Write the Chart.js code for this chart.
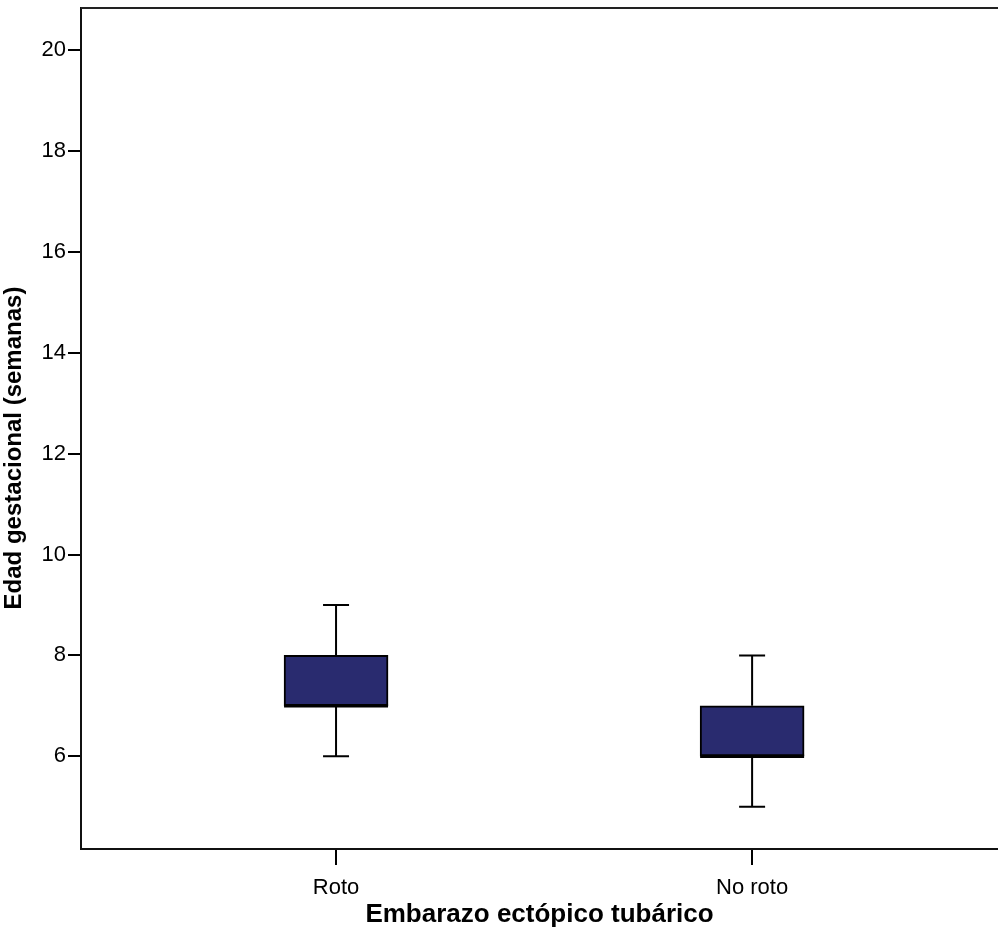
<!DOCTYPE html>
<html>
<head>
<meta charset="utf-8">
<script src="https://cdn.jsdelivr.net/npm/chart.js@4.4.0/dist/chart.umd.min.js"></script>
<style>
  html, body { margin: 0; padding: 0; background: #fff; }
  #wrap { width: 998px; height: 947px; }
</style>
</head>
<body>
<div id="wrap"><canvas id="boxGraph" width="998" height="947"></canvas></div>
<script>
// gestational age by type of ectopic pregnancy
var categories = ['Roto', 'No roto'];
var mins    = [6, 5];
var q1s     = [7, 6];
var medians = [7, 6];
var q3s     = [8, 7];
var maxs    = [9, 8];
var yTicks  = [6, 8, 10, 12, 14, 16, 18, 20];
var yTitle  = 'Edad gestacional (semanas)';

var boxData = [];
for (var i in categories) {
    boxData.push({ x: Number(i) + 1, y: [q1s[i], q3s[i]] });
}

var whiskers = {
    id: 'whiskers',
    beforeDatasetsDraw: function(chart) {
        var ctx = chart.ctx, xs = chart.scales.x, ys = chart.scales.y;
        ctx.save();
        ctx.strokeStyle = '#000';
        ctx.lineWidth = 2;
        for (var i = 0; i < categories.length; i++) {
            var cx = xs.getPixelForValue(i + 1);
            ctx.beginPath();
            ctx.moveTo(cx, ys.getPixelForValue(maxs[i]));
            ctx.lineTo(cx, ys.getPixelForValue(q3s[i]));
            ctx.moveTo(cx, ys.getPixelForValue(q1s[i]));
            ctx.lineTo(cx, ys.getPixelForValue(mins[i]));
            ctx.moveTo(cx - 13, ys.getPixelForValue(maxs[i]));
            ctx.lineTo(cx + 13, ys.getPixelForValue(maxs[i]));
            ctx.moveTo(cx - 13, ys.getPixelForValue(mins[i]));
            ctx.lineTo(cx + 13, ys.getPixelForValue(mins[i]));
            ctx.stroke();
        }
        ctx.restore();
    },
    afterDatasetsDraw: function(chart) {
        var ctx = chart.ctx, xs = chart.scales.x, ys = chart.scales.y;
        var a = chart.chartArea;
        ctx.save();
        ctx.strokeStyle = '#000';
        ctx.lineWidth = 3.5;
        for (var i = 0; i < categories.length; i++) {
            var cx = xs.getPixelForValue(i + 1);
            var my = ys.getPixelForValue(medians[i]);
            ctx.beginPath();
            ctx.moveTo(cx - 52, my);
            ctx.lineTo(cx + 52, my);
            ctx.stroke();
        }
        // top frame line
        ctx.strokeStyle = '#222';
        ctx.lineWidth = 2;
        ctx.beginPath();
        ctx.moveTo(a.left, a.top);
        ctx.lineTo(chart.width, a.top);
        ctx.stroke();

        // y axis title, sitting a bit lower than the axis centre like the original
        ctx.translate(14, 448);
        ctx.rotate(-Math.PI / 2);
        ctx.fillStyle = '#000';
        ctx.font = 'bold 24px "Liberation Sans"';
        ctx.textAlign = 'center';
        ctx.textBaseline = 'middle';
        ctx.fillText(yTitle, 0, 0);
        ctx.restore();
    }
};

function noScalePadding(scale) {
    scale.paddingTop = 0;
    scale.paddingBottom = 0;
    scale.paddingLeft = 0;
    scale.paddingRight = 0;
}

var ctx = document.getElementById('boxGraph');

var boxChart = new Chart(ctx, {
    type: 'bar',
    data: {
        datasets: [{
            data: boxData,
            backgroundColor: '#292b6f',
            borderColor: '#000',
            borderWidth: 2,
            borderSkipped: false,
            barThickness: 104
        }]
    },
    plugins: [whiskers],
    options: {
        responsive: false,
        animation: false,
        layout: { padding: { top: 8, right: 0, left: 0, bottom: 0 } },
        plugins: { legend: { display: false }, tooltip: { enabled: false } },
        scales: {
            x: {
                type: 'linear',
                offset: false,
                min: 0.387,
                max: 2.591,
                afterBuildTicks: function(scale) {
                    scale.ticks = categories.map(function(c, i) { return { value: i + 1 }; });
                },
                afterFit: function(scale) { scale.height = 98; noScalePadding(scale); },
                ticks: {
                    autoSkip: false,
                    maxRotation: 0,
                    padding: 10,
                    color: '#000',
                    font: { family: 'Liberation Sans', size: 22 },
                    callback: function(v) { return categories[v - 1]; }
                },
                grid: { offset: false, drawOnChartArea: false, drawTicks: true, tickLength: 16, color: '#000', lineWidth: 2 },
                border: { display: true, color: '#111', width: 2 },
                title: {
                    display: true,
                    text: 'Embarazo ectópico tubárico',
                    color: '#000',
                    padding: { top: 0, bottom: 17 },
                    font: { family: 'Liberation Sans', size: 26, weight: 'bold' }
                }
            },
            y: {
                min: 4.16,
                max: 20.84,
                afterBuildTicks: function(scale) {
                    scale.ticks = yTicks.map(function(v) { return { value: v }; });
                },
                afterFit: function(scale) { scale.width = 81; noScalePadding(scale); },
                ticks: {
                    padding: 2,
                    color: '#000',
                    font: { family: 'Liberation Sans', size: 22 }
                },
                grid: { drawOnChartArea: false, drawTicks: true, tickLength: 13, color: '#000', lineWidth: 2 },
                border: { display: true, color: '#111', width: 2 }
            }
        }
    }
});
</script>
</body>
</html>
